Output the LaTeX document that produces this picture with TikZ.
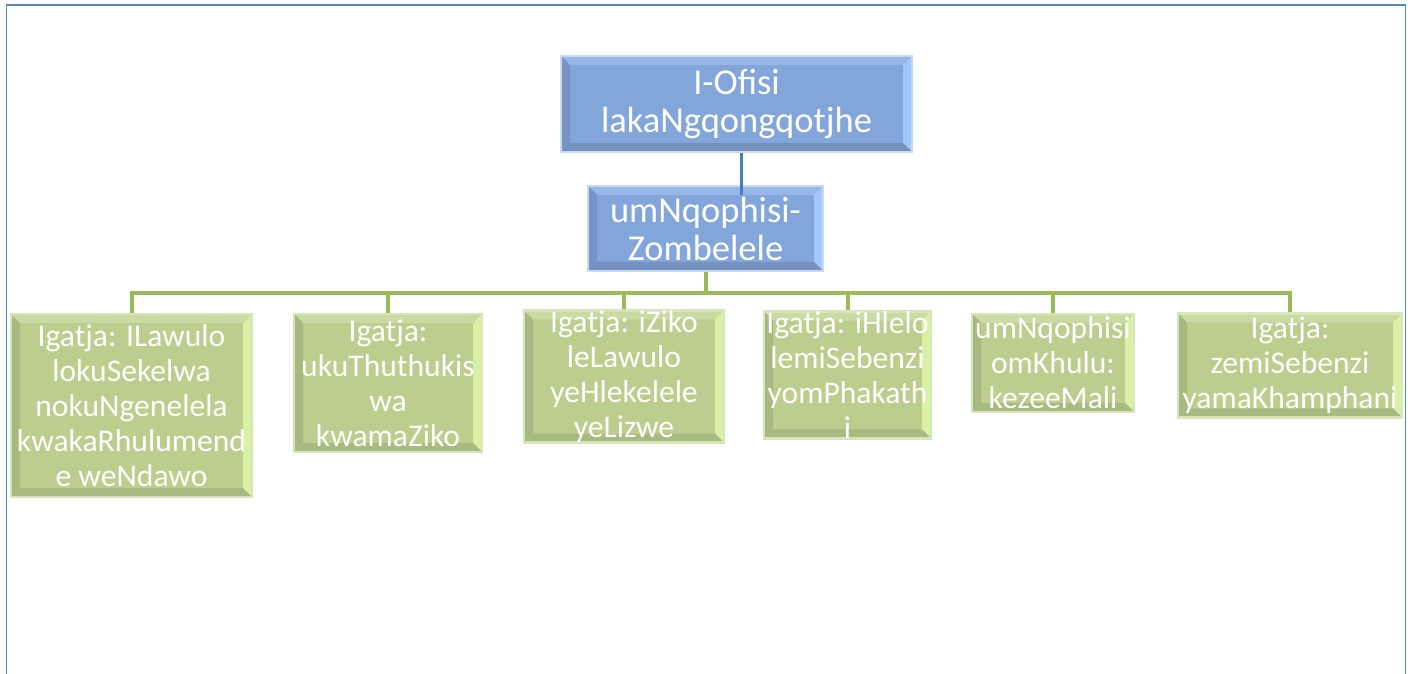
\documentclass[tikz,border=0pt]{standalone}
\usepackage{fontspec}
\setmainfont{Carlito}
\definecolor{frameblue}{HTML}{5A86C4}
\definecolor{bface}{HTML}{83A6DA}
\definecolor{btop}{HTML}{97B8E7}
\definecolor{bleft}{HTML}{7694C4}
\definecolor{bright}{HTML}{A2C7FA}
\definecolor{bbot}{HTML}{7592BF}
\definecolor{bborder}{HTML}{C9D9EF}
\definecolor{gface}{HTML}{BBCE8E}
\definecolor{gtop}{HTML}{C9DBA2}
\definecolor{gleft}{HTML}{A6B97E}
\definecolor{gright}{HTML}{D9F1A4}
\definecolor{gbot}{HTML}{A7BA80}
\definecolor{gborder}{HTML}{D8E5BA}
\definecolor{blueline}{HTML}{4A7EBB}
\definecolor{greenline}{HTML}{9BBB59}
\tikzset{
  bevel/.style n args={6}{
    fill=#1, draw=#6, line width=2.5pt, inner sep=0pt, text=white, align=center,
    path picture={
      \coordinate (pNW) at (path picture bounding box.north west);
      \coordinate (pNE) at (path picture bounding box.north east);
      \coordinate (pSW) at (path picture bounding box.south west);
      \coordinate (pSE) at (path picture bounding box.south east);
      \fill[#2] (pNW) -- (pNE) -- ([shift={(-9pt,-9pt)}]pNE) -- ([shift={(9pt,-9pt)}]pNW) -- cycle;
      \fill[#3] (pNW) -- ([shift={(9pt,-9pt)}]pNW) -- ([shift={(9pt,9pt)}]pSW) -- (pSW) -- cycle;
      \fill[#4] (pNE) -- (pSE) -- ([shift={(-9pt,9pt)}]pSE) -- ([shift={(-9pt,-9pt)}]pNE) -- cycle;
      \fill[#5] (pSW) -- ([shift={(9pt,9pt)}]pSW) -- ([shift={(-9pt,9pt)}]pSE) -- (pSE) -- cycle;
    }
  },
  bluebox/.style={bevel={bface}{btop}{bleft}{bright}{bbot}{bborder},
    font=\fontsize{36.5}{38}\selectfont},
  greenbox/.style={bevel={gface}{gtop}{gleft}{gright}{gbot}{gborder},
    font=\fontsize{31.6}{35}\selectfont},
  bluecon/.style={draw=blueline, line width=3pt},
  greencon/.style={draw=greenline, line width=4pt},
}
\begin{document}
\begin{tikzpicture}[x=1pt,y=-1pt]
\useasboundingbox (0,0) rectangle (1415,674);
% frame
\draw[frameblue, line width=1.6pt] (6.5,674) -- (6.5,5) -- (1405.5,5) -- (1405.5,674);

% nodes
\node[bluebox, minimum width=351pt, minimum height=96pt] (n1) at (736.5,104) {I-Ofisi\\lakaNgqongqotjhe};
\node[bluebox, minimum width=235pt, minimum height=85pt] (n2) at (705.5,228.5) {umNqophisi-\\Zombelele};

\node[greenbox, minimum width=241pt, minimum height=183pt] (g1) at (131.5,405.5) {Igatja: ILawulo\\lokuSekelwa\\nokuNgenelela\\kwakaRhulumend\\e weNdawo};
\node[greenbox, minimum width=188pt, minimum height=138pt] (g2) at (388,383) {Igatja:\\ukuThuthukis\\wa\\kwamaZiko};
\node[greenbox, minimum width=200pt, minimum height=125pt] (g3) at (624,376.5) {Igatja: iZiko\\leLawulo\\yeHlekelele\\yeLizwe};
\node[greenbox, minimum width=167pt, minimum height=122pt] (g4) at (847.5,375) {Igatja: iHlelo\\lemiSebenzi\\yomPhakath\\i};
\node[greenbox, minimum width=162pt, minimum height=98pt] (g5) at (1053,363) {umNqophisi\\omKhulu:\\kezeeMali};
\node[greenbox, minimum width=224pt, minimum height=104pt] (g6) at (1290,365.5) {Igatja:\\zemiSebenzi\\yamaKhamphani};

% connectors
\coordinate (bus) at (706,293);
\coordinate (n2in) at ([xshift=4.5pt]n1.south |- 0,195);
\draw[bluecon] ([xshift=4.5pt]n1.south) -- (n2in);
\draw[greencon] (n2.south) -- (n2.south |- bus);
\draw[greencon, line cap=rect] (g1.north |- bus) -- (g6.north |- bus);
\foreach \g in {g1,g2,g3,g4,g5,g6}{
  \draw[greencon] (\g.north |- bus) -- (\g.north);
}
\end{tikzpicture}
\end{document}
